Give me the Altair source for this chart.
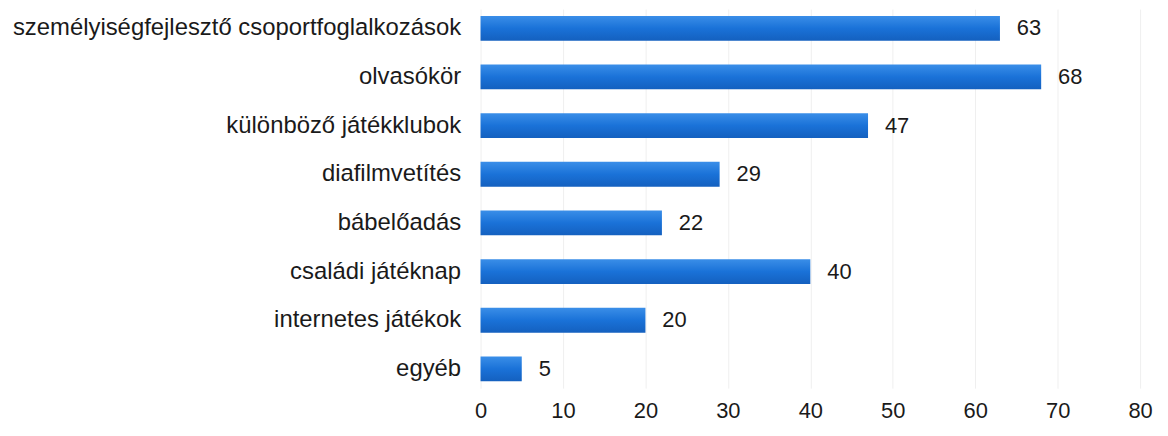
import altair as alt
import pandas as pd

categories = [
    "személyiségfejlesztő csoportfoglalkozások",
    "olvasókör",
    "különböző játékklubok",
    "diafilmvetítés",
    "bábelőadás",
    "családi játéknap",
    "internetes játékok",
    "egyéb",
]
values = [63, 68, 47, 29, 22, 40, 20, 5]
x_ticks = [0, 10, 20, 30, 40, 50, 60, 70, 80]

df = pd.DataFrame({"cat": categories, "val": values})

FONT = "Liberation Sans"
TXT = "#1a1a1a"

y_enc = alt.Y(
    "cat:N",
    sort=categories,
    title=None,
    scale=alt.Scale(paddingInner=0.49, paddingOuter=0.14),
    axis=alt.Axis(
        labelFont=FONT, labelFontSize=24, labelColor=TXT,
        labelPadding=20, ticks=False, domain=False, grid=False, labelLimit=700,
    ),
)
x_enc = alt.X(
    "val:Q",
    title=None,
    scale=alt.Scale(domain=[0, 80], nice=False),
    axis=alt.Axis(
        values=x_ticks, labelFont=FONT, labelFontSize=22, labelColor=TXT,
        labelPadding=13, ticks=False, domain=False, labelFlush=False,
        grid=True, gridColor="#efefef", gridWidth=1,
    ),
)

bars = alt.Chart(df).mark_bar(
    color=alt.Gradient(
        gradient="linear",
        stops=[
            alt.GradientStop(color="#3a8ee8", offset=0),
            alt.GradientStop(color="#1a72d8", offset=0.5),
            alt.GradientStop(color="#1460bf", offset=1),
        ],
        x1=0, x2=0, y1=0, y2=1,
    )
).encode(x=x_enc, y=y_enc)

labels = alt.Chart(df).mark_text(
    align="left", baseline="middle", dx=17, font=FONT, fontSize=22, color=TXT
).encode(x="val:Q", y=alt.Y("cat:N", sort=categories), text="val:Q")

chart = (bars + labels).properties(
    width=663,
    height=381,
    background="white",
    autosize=alt.AutoSizeParams(type="none"),
    padding={"left": 475, "top": 0, "right": 20, "bottom": 40},
).configure_view(stroke=None)

chart.save("out.html", embed_options={"renderer": "svg", "actions": False})
